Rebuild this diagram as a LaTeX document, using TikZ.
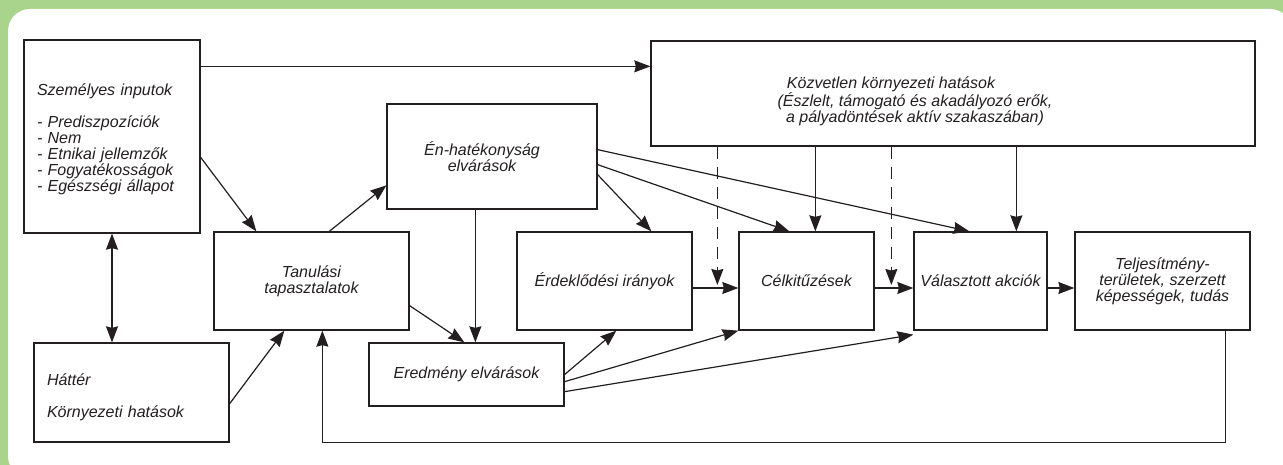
\documentclass[tikz,border=0pt]{standalone}
\usepackage{fontspec}
\setmainfont{Liberation Sans}
\usetikzlibrary{arrows.meta}
\definecolor{leaf}{HTML}{A8D48C}
\definecolor{ink}{HTML}{231F20}
\begin{document}
\begin{tikzpicture}[x=1pt, y=-1pt,
  >={Stealth[length=16pt,width=12pt,inset=1.5pt]},
  box/.style={draw=ink, line width=1.3pt, text=ink, font=\itshape\fontsize{16}{16}\selectfont, align=center},
  arr/.style={draw=ink, line width=1.2pt, ->},
  hint/.style={dash pattern=on 12pt off 8pt}]
\useasboundingbox (0,0) rectangle (1283,465);
\fill[leaf] (0,0) rectangle (1283,465);
\fill[white, rounded corners=22pt] (8,9) rectangle (1292,478);

\node[box, minimum width=176pt, minimum height=193pt, text width=150pt, align=left] (inp) at (112,136.5) {\rule{0pt}{17pt}Személyes inputok\\[16pt]- Prediszpozíciók\\- Nem\\- Etnikai jellemzők\\- Fogyatékosságok\\- Egészségi állapot};
\node[box, minimum width=195pt, minimum height=99pt, text width=169pt, align=left] (hat) at (131.5,392.5) {\rule{0pt}{22pt}Háttér\\[16pt]Környezeti hatások};
\node[box, minimum width=195pt, minimum height=98pt] (tan) at (311.5,281) {Tanulási\\tapasztalatok};
\node[box, minimum width=210pt, minimum height=105pt] (en) at (492,156.5) {\hspace*{-20pt}Én-hatékonyság\\\hspace*{-20pt}elvárások};
\node[box, minimum width=604pt, minimum height=105pt] (koz) at (953,93.5) {\hspace*{-124pt}\rule{0pt}{28pt}Közvetlen környezeti hatások\\\hspace*{-76pt}(Észlelt, támogató és akadályozó erők,\\\hspace*{-76pt}a pályadöntések aktív szakaszában)};
\node[box, minimum width=175pt, minimum height=98pt] (erd) at (604.5,281) {Érdeklődési irányok};
\node[box, minimum width=135pt, minimum height=98pt] (cel) at (806.5,281) {Célkitűzések};
\node[box, minimum width=133pt, minimum height=98pt] (val) at (980.5,281) {Választott akciók};
\node[box, minimum width=175pt, minimum height=98pt] (tel) at (1162.5,281) {Teljesítmény-\\területek, szerzett\\képességek, tudás};
\node[box, minimum width=195pt, minimum height=63pt] (ere) at (466.5,374.5) {Eredmény elvárások};

\draw[arr] ([yshift=-27pt]inp.north east) -- ([yshift=-26pt]koz.north west);
\draw[arr] ([yshift=-118pt]inp.north east) -- ([xshift=43pt]tan.north west);
\draw[arr] ([xshift=116pt]tan.north west) -- ([yshift=-82pt]en.north west);
\draw[arr, <->] (inp.south) -- (inp.south |- hat.north);
\draw[arr] ([yshift=39pt]hat.south east) -- ([xshift=71pt]tan.south west);
\coordinate (back) at ([xshift=109pt]tan.south west);
\draw[arr] ([xshift=151pt]tel.south west) |- (back |- hat.south) -- (back);
\draw[arr] ([yshift=25pt]tan.south east) -- ([xshift=96pt]ere.north west);
\draw[arr] ([xshift=89pt]en.south west) -- ([xshift=107pt]ere.north west);
\draw[arr] ([yshift=35pt]en.south east) -- ([xshift=135pt]erd.north west);
\draw[arr] ([yshift=45pt]en.south east) -- ([xshift=51pt]cel.north west);
\draw[arr] ([yshift=60pt]en.south east) -- ([xshift=56pt]val.north west);
\draw[arr] ([xshift=165pt]koz.south west) -- ([xshift=77pt]cel.north west);
\draw[arr] ([xshift=366pt]koz.south west) -- ([xshift=103pt]val.north west);
\draw[arr, hint] ([xshift=67pt]koz.south west) -- ([xshift=-21pt,yshift=-4pt]cel.west);
\draw[arr, hint] ([xshift=241pt]koz.south west) -- ([xshift=-22pt,yshift=-4pt]val.west);
\draw[arr] ([yshift=-7pt]erd.east) -- ([yshift=-7pt]cel.west);
\draw[arr] ([yshift=-7pt]cel.east) -- ([yshift=-7pt]val.west);
\draw[arr] ([yshift=-7pt]val.east) -- ([yshift=-7pt]tel.west);
\draw[arr] (ere.east) -- ([xshift=100pt]erd.south west);
\draw[arr] ([yshift=25pt]ere.south east) -- (cel.south west);
\draw[arr] ([yshift=15pt]ere.south east) -- ([yshift=-4pt]val.south west);
\end{tikzpicture}
\end{document}
